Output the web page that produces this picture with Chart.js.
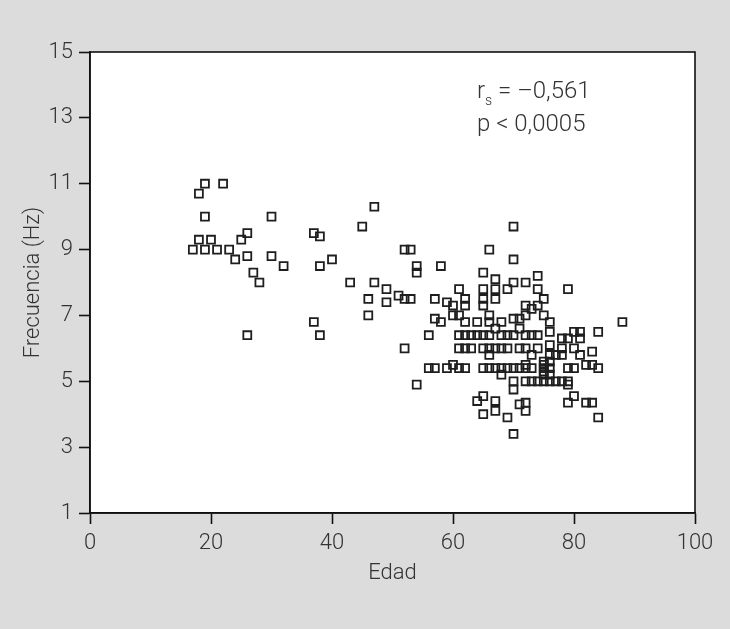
<!DOCTYPE html>
<html>
<head>
<meta charset="utf-8">
<script src="https://cdn.jsdelivr.net/npm/chart.js@4/dist/chart.umd.min.js"></script>
<style>
    html, body { margin: 0; padding: 0; background: #dcdcdc; }
    canvas { display: block; }
</style>
</head>
<body>
<canvas id="scatter" width="730" height="629"></canvas>
<script>
// edad (años) y frecuencia (Hz) de cada sujeto
const edad = [
    17, 18, 18, 19, 19, 19, 20, 21, 22, 23, 24, 25, 26, 26, 26, 27, 28, 30, 30, 32,
    37, 38, 38, 40, 37, 38,
    43, 45, 47, 47, 46, 46, 49, 49, 51, 52, 53, 52, 53, 52, 54, 54, 54, 56, 56, 57, 57, 57, 58, 58, 59, 59, 60, 60, 60, 61, 61, 61, 61,
    61, 62, 62, 62, 62, 62, 62,
    63, 63, 64, 64, 64,
    65, 65, 65, 65, 65, 65, 65, 65, 65,
    66, 66, 66, 66, 66, 66, 66,
    67, 67, 67, 67, 67, 67, 67, 67,
    68, 68, 68, 68, 68,
    69, 69, 69, 69, 69,
    70, 70, 70, 70, 70, 70, 70, 70, 70,
    71, 71, 71, 71, 71,
    72, 72, 72, 72, 72, 72, 72, 72, 72, 72,
    73, 73, 73, 73, 73,
    74, 74, 74, 74, 74, 74,
    75, 75, 75, 75, 75, 75, 75, 75,
    76, 76, 76, 76, 76, 76, 76, 76,
    77, 77,
    78, 78, 78, 78,
    79, 79, 79, 79, 79, 79,
    80, 80, 80, 80,
    81, 81, 81,
    82, 82,
    83, 83, 83,
    84, 84, 84,
    88
];

const frecuencia = [
    9.0, 9.3, 10.7, 11.0, 10.0, 9.0, 9.3, 9.0, 11.0, 9.0, 8.7, 9.3, 9.5, 8.8, 6.4, 8.3, 8.0, 10.0, 8.8, 8.5,
    9.5, 9.4, 8.5, 8.7, 6.8, 6.4,
    8.0, 9.7, 10.3, 8.0, 7.5, 7.0, 7.8, 7.4, 7.6, 9.0, 9.0, 7.5, 7.5, 6.0, 8.5, 8.3, 4.9, 6.4, 5.4, 5.4, 7.5, 6.9, 8.5, 6.8, 7.4, 5.4, 7.3, 7.0, 5.5, 7.8, 7.0, 6.4, 6.0,
    5.4, 7.5, 7.3, 6.8, 6.4, 5.4, 6.0,
    6.4, 6.0, 6.8, 6.4, 4.4,
    8.3, 7.8, 7.5, 7.3, 6.4, 6.0, 5.4, 4.55, 4.0,
    9.0, 7.0, 6.8, 6.4, 6.0, 5.8, 5.4,
    8.1, 7.8, 7.5, 6.6, 6.0, 5.4, 4.4, 4.1,
    6.8, 6.4, 5.4, 5.2, 6.0,
    7.8, 6.4, 5.4, 3.9, 6.0,
    9.7, 8.7, 8.0, 6.9, 6.4, 5.4, 5.0, 4.75, 3.4,
    6.9, 6.0, 5.4, 4.3, 6.6,
    8.0, 7.3, 7.0, 6.4, 6.0, 5.5, 5.4, 5.0, 4.35, 4.1,
    7.2, 6.4, 5.8, 5.0, 5.4,
    8.2, 7.8, 7.3, 6.4, 6.0, 5.0,
    7.5, 7.0, 5.6, 5.5, 5.4, 5.3, 5.2, 5.0,
    6.8, 6.5, 6.1, 5.6, 5.4, 5.2, 5.0, 5.8,
    5.0, 5.8,
    6.3, 6.0, 5.8, 5.0,
    7.8, 6.3, 5.4, 5.0, 4.9, 4.35,
    6.5, 6.0, 5.4, 4.55,
    6.5, 6.3, 5.8,
    5.5, 4.35,
    5.9, 5.5, 4.35,
    6.5, 5.4, 3.9,
    6.8
];

const xTicks = [0, 20, 40, 60, 80, 100];
const yTicks = [1, 3, 5, 7, 9, 11, 13, 15];

const puntos = edad.map(function (e, i) {
    return { x: e, y: frecuencia[i] };
});

const textColor = "#333333";
const fontFamily = "Roboto, 'Liberation Sans', sans-serif";

// fondo gris, área blanca, marco y texto de la correlación
const marco = {
    id: "marco",
    beforeDraw(chart) {
        const ctx = chart.ctx;
        const a = chart.chartArea;
        ctx.save();
        ctx.fillStyle = "#dcdcdc";
        ctx.fillRect(0, 0, chart.width, chart.height);
        ctx.fillStyle = "#ffffff";
        ctx.fillRect(a.left, a.top, a.right - a.left, a.bottom - a.top);
        ctx.restore();
    },
    afterDraw(chart) {
        const ctx = chart.ctx;
        const a = chart.chartArea;
        ctx.save();
        ctx.strokeStyle = "#111111";
        ctx.lineWidth = 1.6;
        ctx.strokeRect(a.left, a.top, a.right - a.left, a.bottom - a.top);

        ctx.fillStyle = textColor;
        ctx.textBaseline = "alphabetic";
        ctx.font = "300 24px " + fontFamily;
        ctx.fillText("r", 477, 98);
        ctx.font = "300 14px " + fontFamily;
        ctx.fillText("s", 485, 105);
        ctx.font = "300 24px " + fontFamily;
        ctx.fillText("= \u20130,561", 498, 98);
        ctx.fillText("p < 0,0005", 477, 131);
        ctx.restore();
    }
};

new Chart(document.getElementById("scatter"), {

    type: "scatter",

    data: {
        datasets: [
            {
                data: puntos,
                pointStyle: "rect",
                pointRadius: 5.6,
                pointHoverRadius: 5.6,
                borderColor: "#1e1e1e",
                backgroundColor: "rgba(0,0,0,0)",
                borderWidth: 1.8
            }
        ]
    },

    options: {

        responsive: false,
        animation: false,

        layout: {
            padding: { top: 52, right: 35, left: 20, bottom: 42 }
        },

        plugins: {
            legend: { display: false },
            tooltip: { enabled: false }
        },

        scales: {

            x: {
                type: "linear",
                min: 0,
                max: 100,
                afterBuildTicks(scale) {
                    scale.ticks = xTicks.map(function (v) { return { value: v }; });
                },
                afterFit(scale) {
                    scale.height = 74;
                },
                grid: {
                    drawOnChartArea: false,
                    drawTicks: true,
                    tickLength: 11,
                    tickWidth: 1.6,
                    tickColor: "#111111"
                },
                border: { display: true, color: "#111111", width: 1.6 },
                ticks: {
                    color: textColor,
                    padding: 6,
                    font: { family: fontFamily, size: 22, weight: 300 }
                },
                title: {
                    display: true,
                    text: "Edad",
                    color: textColor,
                    padding: { top: 0, bottom: 0 },
                    font: { family: fontFamily, size: 22, weight: 300 }
                }
            },

            y: {
                type: "linear",
                min: 1,
                max: 15,
                afterBuildTicks(scale) {
                    scale.ticks = yTicks.map(function (v) { return { value: v }; });
                },
                afterFit(scale) {
                    scale.width = 70;
                },
                grid: {
                    drawOnChartArea: false,
                    drawTicks: true,
                    tickLength: 11,
                    tickWidth: 1.6,
                    tickColor: "#111111"
                },
                border: { display: true, color: "#111111", width: 1.6 },
                ticks: {
                    color: textColor,
                    padding: 6,
                    font: { family: fontFamily, size: 22, weight: 300 }
                },
                title: {
                    display: true,
                    text: "Frecuencia (Hz)",
                    color: textColor,
                    padding: { top: 0, bottom: 0 },
                    font: { family: fontFamily, size: 22, weight: 300 }
                }
            }
        }
    },

    plugins: [marco]
});
</script>
</body>
</html>
